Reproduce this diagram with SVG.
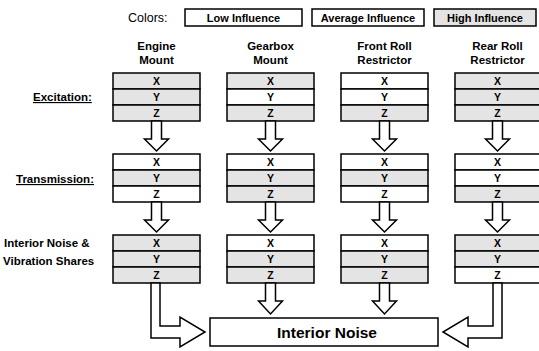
<svg xmlns="http://www.w3.org/2000/svg" width="539" height="351" viewBox="0 0 539 351">
<style>
.t{font-family:"Liberation Sans",Arial,sans-serif;font-weight:bold;fill:#000;text-anchor:middle}
.h{font-size:11.5px}
.r{font-size:10.5px}
.lg{font-size:11px}
.lab{font-family:"Liberation Sans",Arial,sans-serif;font-weight:bold;font-size:11.5px}
.box{stroke:#000;stroke-width:1.5}
.w{fill:#fff}
.g{fill:#e4e4e4}
.arr{fill:#fff;stroke:#000;stroke-width:1.5;stroke-linejoin:miter}
</style>
<rect width="539" height="351" fill="#fff"/>
<g id="legend">
<text x="128" y="22" font-family="Liberation Sans,Arial,sans-serif" font-size="12.5px">Colors:</text>
<rect class="box w" x="185" y="9" width="117" height="17"/>
<text class="t lg" x="243.5" y="21.5">Low Influence</text>
<rect class="box w" x="312" y="9" width="112" height="17"/>
<text class="t lg" x="368" y="21.5">Average Influence</text>
<rect class="box g" x="434" y="9" width="102" height="17"/>
<text class="t lg" x="485" y="21.5">High Influence</text>
</g>
<g id="row-labels">
<text class="lab" x="33" y="101" text-decoration="underline">Excitation:</text>
<text class="lab" x="16" y="183" text-decoration="underline">Transmission:</text>
<text class="lab" x="4" y="247">Interior Noise &amp;</text>
<text class="lab" x="3" y="265">Vibration Shares</text>
</g>
<g id="engine-mount">
<text class="t h" x="156.5" y="50">Engine</text>
<text class="t h" x="156.5" y="64">Mount</text>
<rect class="box g" x="113" y="73" width="87" height="16"/><text class="t r" x="156.5" y="85">X</text>
<rect class="box g" x="113" y="89" width="87" height="16"/><text class="t r" x="156.5" y="101">Y</text>
<rect class="box g" x="113" y="105" width="87" height="16"/><text class="t r" x="156.5" y="117">Z</text>
<rect class="box w" x="113" y="154" width="87" height="16"/><text class="t r" x="156.5" y="166">X</text>
<rect class="box g" x="113" y="170" width="87" height="16"/><text class="t r" x="156.5" y="182">Y</text>
<rect class="box w" x="113" y="186" width="87" height="16"/><text class="t r" x="156.5" y="198">Z</text>
<rect class="box g" x="113" y="235" width="87" height="16"/><text class="t r" x="156.5" y="247">X</text>
<rect class="box g" x="113" y="251" width="87" height="16"/><text class="t r" x="156.5" y="263">Y</text>
<rect class="box g" x="113" y="267" width="87" height="16"/><text class="t r" x="156.5" y="279">Z</text>
</g>
<g id="gearbox-mount">
<text class="t h" x="270.5" y="50">Gearbox</text>
<text class="t h" x="270.5" y="64">Mount</text>
<rect class="box g" x="227" y="73" width="87" height="16"/><text class="t r" x="270.5" y="85">X</text>
<rect class="box w" x="227" y="89" width="87" height="16"/><text class="t r" x="270.5" y="101">Y</text>
<rect class="box g" x="227" y="105" width="87" height="16"/><text class="t r" x="270.5" y="117">Z</text>
<rect class="box w" x="227" y="154" width="87" height="16"/><text class="t r" x="270.5" y="166">X</text>
<rect class="box g" x="227" y="170" width="87" height="16"/><text class="t r" x="270.5" y="182">Y</text>
<rect class="box g" x="227" y="186" width="87" height="16"/><text class="t r" x="270.5" y="198">Z</text>
<rect class="box w" x="227" y="235" width="87" height="16"/><text class="t r" x="270.5" y="247">X</text>
<rect class="box g" x="227" y="251" width="87" height="16"/><text class="t r" x="270.5" y="263">Y</text>
<rect class="box g" x="227" y="267" width="87" height="16"/><text class="t r" x="270.5" y="279">Z</text>
</g>
<g id="front-roll-restrictor">
<text class="t h" x="384.5" y="50">Front Roll</text>
<text class="t h" x="384.5" y="64">Restrictor</text>
<rect class="box w" x="341" y="73" width="87" height="16"/><text class="t r" x="384.5" y="85">X</text>
<rect class="box w" x="341" y="89" width="87" height="16"/><text class="t r" x="384.5" y="101">Y</text>
<rect class="box g" x="341" y="105" width="87" height="16"/><text class="t r" x="384.5" y="117">Z</text>
<rect class="box w" x="341" y="154" width="87" height="16"/><text class="t r" x="384.5" y="166">X</text>
<rect class="box g" x="341" y="170" width="87" height="16"/><text class="t r" x="384.5" y="182">Y</text>
<rect class="box w" x="341" y="186" width="87" height="16"/><text class="t r" x="384.5" y="198">Z</text>
<rect class="box w" x="341" y="235" width="87" height="16"/><text class="t r" x="384.5" y="247">X</text>
<rect class="box g" x="341" y="251" width="87" height="16"/><text class="t r" x="384.5" y="263">Y</text>
<rect class="box g" x="341" y="267" width="87" height="16"/><text class="t r" x="384.5" y="279">Z</text>
</g>
<g id="rear-roll-restrictor">
<text class="t h" x="497.5" y="50">Rear Roll</text>
<text class="t h" x="497.5" y="64">Restrictor</text>
<rect class="box g" x="455" y="73" width="87" height="16"/><text class="t r" x="497.5" y="85">X</text>
<rect class="box g" x="455" y="89" width="87" height="16"/><text class="t r" x="497.5" y="101">Y</text>
<rect class="box g" x="455" y="105" width="87" height="16"/><text class="t r" x="497.5" y="117">Z</text>
<rect class="box w" x="455" y="154" width="87" height="16"/><text class="t r" x="497.5" y="166">X</text>
<rect class="box w" x="455" y="170" width="87" height="16"/><text class="t r" x="497.5" y="182">Y</text>
<rect class="box g" x="455" y="186" width="87" height="16"/><text class="t r" x="497.5" y="198">Z</text>
<rect class="box g" x="455" y="235" width="87" height="16"/><text class="t r" x="497.5" y="247">X</text>
<rect class="box g" x="455" y="251" width="87" height="16"/><text class="t r" x="497.5" y="263">Y</text>
<rect class="box w" x="455" y="267" width="87" height="16"/><text class="t r" x="497.5" y="279">Z</text>
</g>
<g id="interior-noise">
<rect class="box w" x="210" y="318" width="228" height="28"/>
<text class="t" x="327" y="338" font-size="15.5px">Interior Noise</text>
</g>
<g id="connectors">
<polygon class="arr" points="151.5,121 161.5,121 161.5,139 168.5,139 156.5,151 144.5,139 151.5,139"/>
<polygon class="arr" points="265.5,121 275.5,121 275.5,139 282.5,139 270.5,151 258.5,139 265.5,139"/>
<polygon class="arr" points="379.5,121 389.5,121 389.5,139 396.5,139 384.5,151 372.5,139 379.5,139"/>
<polygon class="arr" points="492.5,121 502.5,121 502.5,139 509.5,139 497.5,151 485.5,139 492.5,139"/>
<polygon class="arr" points="151.5,202 161.5,202 161.5,220 168.5,220 156.5,232 144.5,220 151.5,220"/>
<polygon class="arr" points="265.5,202 275.5,202 275.5,220 282.5,220 270.5,232 258.5,220 265.5,220"/>
<polygon class="arr" points="379.5,202 389.5,202 389.5,220 396.5,220 384.5,232 372.5,220 379.5,220"/>
<polygon class="arr" points="492.5,202 502.5,202 502.5,220 509.5,220 497.5,232 485.5,220 492.5,220"/>
<polygon class="arr" points="265.5,283 275.5,283 275.5,301 282.5,301 270.5,314 258.5,301 265.5,301"/>
<polygon class="arr" points="379.5,283 389.5,283 389.5,301 396.5,301 384.5,314 372.5,301 379.5,301"/>
<polygon class="arr" points="151,283 151,338 180,338 180,347 205,332 180,317 180,326 160,326 160,283"/>
<polygon class="arr" points="502,283 502,338 468,338 468,347 443,332 468,317 468,326 493,326 493,283"/>
</g>
</svg>
